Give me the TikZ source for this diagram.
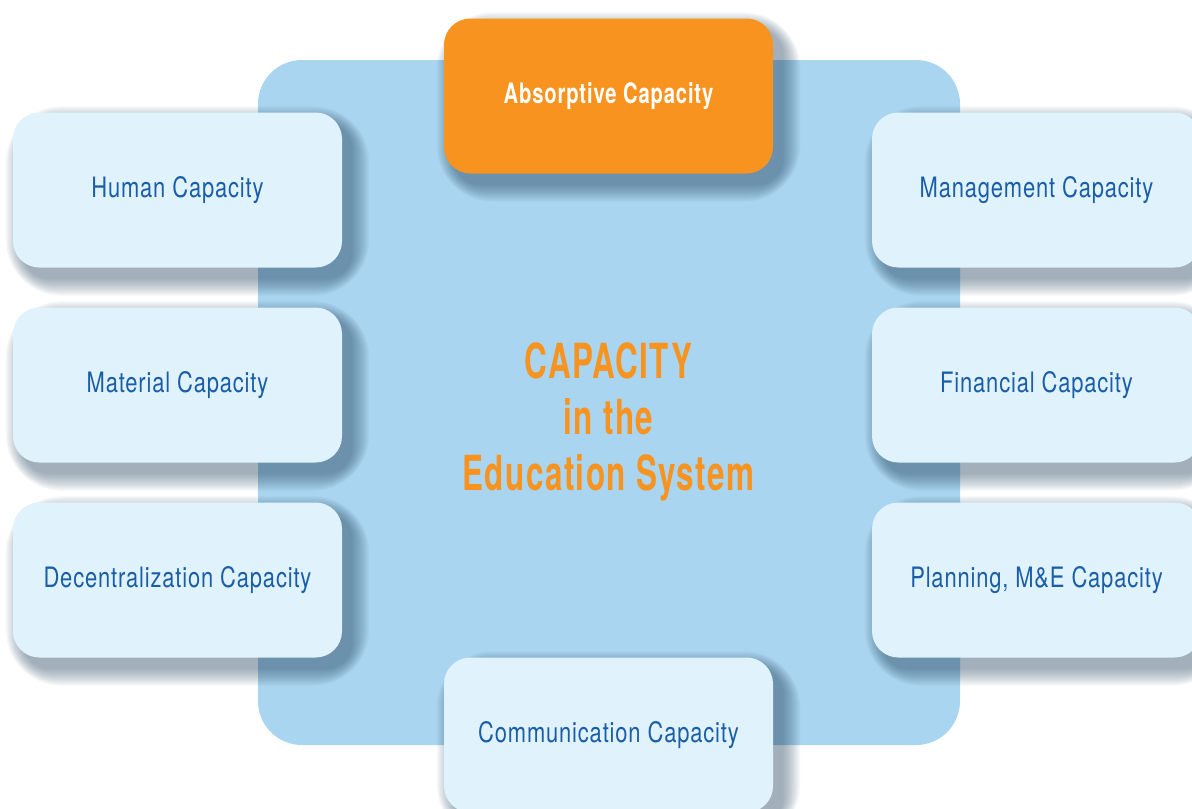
\documentclass[tikz,border=0pt]{standalone}
\usepackage{fontspec}
\newfontfamily\condfont{TeX Gyre Heros}[FakeStretch=0.78,LetterSpace=3]
\newfontfamily\keyfont{TeX Gyre Heros}[FakeStretch=0.72,LetterSpace=3]
\newfontfamily\headfont{TeX Gyre Heros}[FakeStretch=0.65,LetterSpace=3]
\definecolor{paleblue}{HTML}{E0F2FB}
\definecolor{midblue}{HTML}{A9D5F0}
\definecolor{inkblue}{HTML}{1A5EA8}
\definecolor{caporange}{HTML}{F7931E}
\definecolor{shadeblue}{HTML}{2B4A63}
\pgfdeclarelayer{backdrop}
\pgfdeclarelayer{shade}
\pgfsetlayers{backdrop,shade,main}
% soft shadow behind a named node
\newcommand\softshadow[1]{%
 \foreach \k in {0,...,17}
  \fill[shadeblue,opacity=0.03,rounded corners=15+\k]
   ([shift={(10-\k,11-\k)}]#1.north west) rectangle ([shift={(10+\k,11+\k)}]#1.south east);}

\begin{document}
\begin{tikzpicture}[x=0.02cm,y=-0.02cm,
 capbox/.style={rounded corners=15,minimum width=329*0.02cm,minimum height=155*0.02cm,
  fill=paleblue,text=inkblue,inner sep=0pt,font=\condfont\fontsize{16}{19}\selectfont},
 keybox/.style={capbox,fill=caporange,text=white,font=\keyfont\bfseries\fontsize{16}{19}\selectfont}]
\useasboundingbox (0,0) rectangle (1192,808);
\clip (0,0) rectangle (1192,808);
% outer ring of capacities
\node[keybox] (absorptive) at (608.5,96) {Absorptive Capacity};
\node[capbox] (human) at (177.5,190) {Human Capacity};
\node[capbox] (material) at (177.5,385) {Material Capacity};
\node[capbox] (decentral) at (177.5,580) {Decentralization Capacity};
\node[capbox] (management) at (1036.5,190) {Management Capacity};
\node[capbox] (financial) at (1036.5,385) {Financial Capacity};
\node[capbox] (planning) at (1036.5,580) {Planning, M\&E Capacity};
\node[capbox] (communication) at (608.5,735) {Communication Capacity};
% centre
\node[text=caporange,align=center,font=\headfont\bfseries\fontsize{27.5}{32}\selectfont]
 (core) at (608.5,422) {CAPACITY\\in the\\Education System};
\begin{pgfonlayer}{shade}
\foreach \n in {absorptive,human,material,decentral,management,financial,planning,communication}
 {\softshadow{\n}}
\end{pgfonlayer}
\begin{pgfonlayer}{backdrop}
\fill[midblue,rounded corners=25] (258,60) rectangle (960,745);
\end{pgfonlayer}
\end{tikzpicture}
\end{document}
